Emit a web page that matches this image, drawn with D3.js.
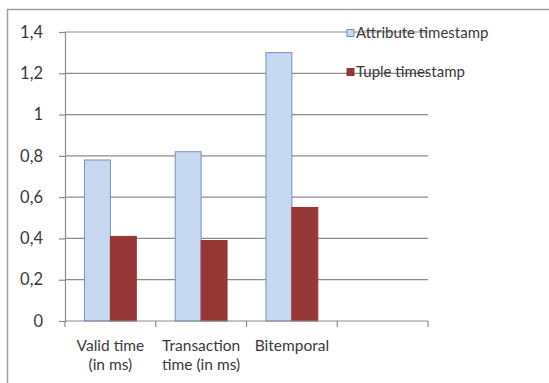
<!DOCTYPE html>
<html>
<head>
<meta charset="utf-8">
<script src="https://cdn.jsdelivr.net/npm/d3@7/dist/d3.min.js"></script>
<style>
  html, body { margin: 0; padding: 0; background: #fff; }
  svg { display: block; }
  text { font-family: Lato, "Open Sans", sans-serif; fill: #3a3a3a; }
</style>
</head>
<body>
<svg id="chart" width="549" height="383"></svg>
<script>
// Timings per timestamping approach
const categories = [["Valid time", "(in ms)"], ["Transaction", "time (in ms)"], ["Bitemporal"]];
const seriesNames = ["Attribute timestamp", "Tuple timestamp"];
const attributeValues = [0.78, 0.82, 1.30];
const tupleValues = [0.41, 0.39, 0.55];
const yTicks = [0, 0.2, 0.4, 0.6, 0.8, 1, 1.2, 1.4];
const yTickLabels = ["0", "0,2", "0,4", "0,6", "0,8", "1", "1,2", "1,4"];

const colors = { fill: ["#c6d9f1", "#953735"], stroke: ["#7191c2", "#953735"] };

const svg = d3.select("#chart");

// outer frame (only the top and left edges fall inside the view)
svg.append("rect")
  .attr("x", 7.5).attr("y", 9.5)
  .attr("width", 560).attr("height", 400)
  .attr("fill", "none").attr("stroke", "#a0a0a0").attr("stroke-width", 1.5);

const plot = { left: 65, right: 428, top: 32, bottom: 321 };

// one empty slot after the last category
const slots = categories.map((c, i) => i).concat([categories.length]);
const x = d3.scaleBand().domain(slots).range([plot.left, plot.right]).paddingInner(0).paddingOuter(0);
const inner = d3.scaleBand().domain(seriesNames).range([0, x.bandwidth()]).paddingInner(0).paddingOuter(0.75);
const y = d3.scaleLinear().domain([0, 1.4]).range([plot.bottom, plot.top]);

// gridlines
svg.append("g")
  .selectAll("line")
  .data(yTicks.filter(v => v > 0))
  .join("line")
  .attr("x1", plot.left).attr("x2", plot.right)
  .attr("y1", d => y(d)).attr("y2", d => y(d))
  .attr("stroke", "#8c8c8c").attr("stroke-width", 1.2);

// bars
const rows = categories.map((c, i) => ({ i, vals: [attributeValues[i], tupleValues[i]] }));
const groups = svg.append("g").selectAll("g").data(rows).join("g")
  .attr("transform", d => `translate(${x(d.i)},0)`);
groups.selectAll("rect")
  .data(d => d.vals.map((v, k) => ({ v, k })))
  .join("rect")
  .attr("x", d => inner(seriesNames[d.k]))
  .attr("width", inner.bandwidth())
  .attr("y", d => y(d.v))
  .attr("height", d => y(0) - y(d.v))
  .attr("fill", d => colors.fill[d.k])
  .attr("stroke", d => colors.stroke[d.k])
  .attr("stroke-width", 1);

// y axis
const yAxis = d3.axisLeft(y).tickValues(yTicks)
  .tickFormat((d, i) => yTickLabels[i]).tickSize(6).tickPadding(16);
const gy = svg.append("g").attr("transform", `translate(${plot.left},0)`).call(yAxis);
gy.select(".domain").attr("stroke", "#8c8c8c").attr("stroke-width", 1.2);
gy.selectAll(".tick line").attr("stroke", "#8c8c8c").attr("stroke-width", 1.2);
gy.selectAll(".tick text").style("font-size", "16.5px").attr("fill", "#3a3a3a");

// x axis: ticks on category boundaries
const boundaries = slots.map(s => x(s)).concat([plot.right]);
const gx = svg.append("g");
gx.append("line").attr("x1", plot.left).attr("x2", plot.right).attr("y1", plot.bottom).attr("y2", plot.bottom)
  .attr("stroke", "#8c8c8c").attr("stroke-width", 1.2);
gx.selectAll("line.tk").data(boundaries).join("line").attr("class", "tk")
  .attr("x1", d => d).attr("x2", d => d).attr("y1", plot.bottom).attr("y2", plot.bottom + 6)
  .attr("stroke", "#8c8c8c").attr("stroke-width", 1.2);
gx.selectAll("text").data(categories).join("text")
  .attr("text-anchor", "middle")
  .attr("x", (d, i) => x(i) + x.bandwidth() / 2)
  .attr("y", 351)
  .style("font-size", "15.5px")
  .selectAll("tspan").data(d => d).join("tspan")
  .attr("x", function () { return this.parentNode.getAttribute("x"); })
  .attr("dy", (d, j) => j === 0 ? 0 : 19)
  .text(d => d);

// legend
const legend = svg.append("g").selectAll("g").data(seriesNames).join("g")
  .attr("transform", (d, i) => `translate(347,${33 + i * 39})`);
legend.append("rect")
  .attr("x", 0).attr("y", -3.5).attr("width", 7).attr("height", 7)
  .attr("fill", (d, i) => colors.fill[i]).attr("stroke", (d, i) => colors.stroke[i]).attr("stroke-width", 1);
legend.append("text")
  .attr("x", 9).attr("y", 0).attr("dy", "0.35em")
  .style("font-size", "15px")
  .text(d => d);
</script>
</body>
</html>
